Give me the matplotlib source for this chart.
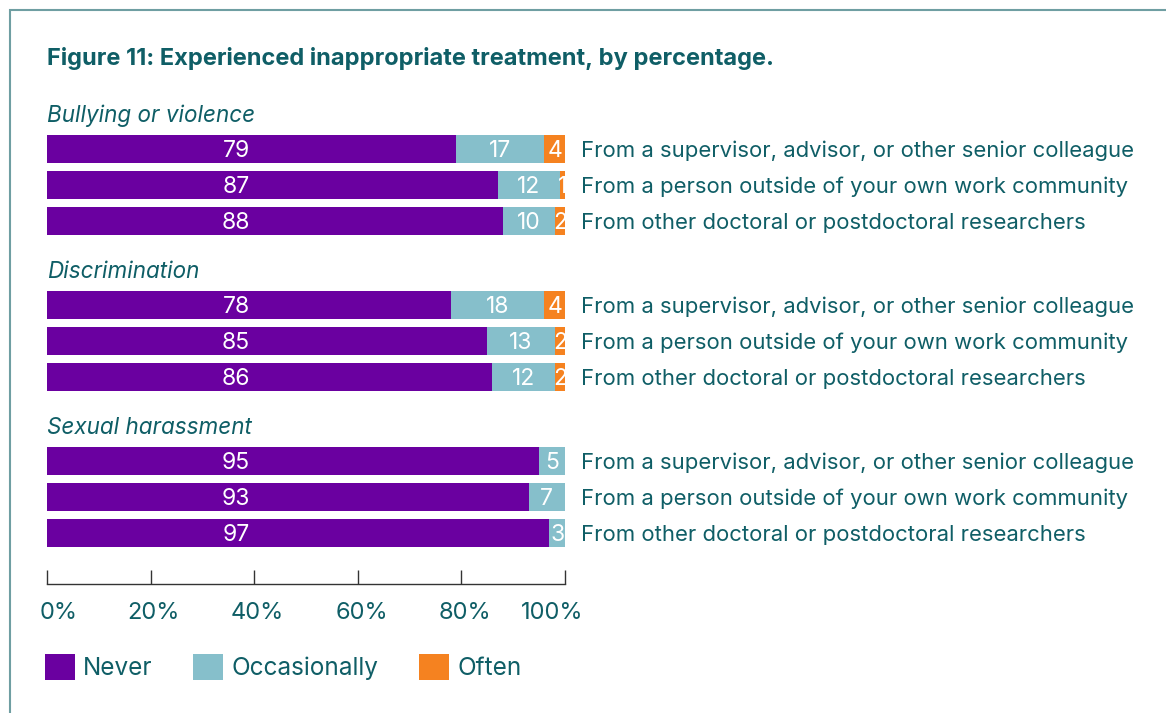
import numpy as np
import matplotlib
matplotlib.use("Agg")
import matplotlib.pyplot as plt
from matplotlib.patches import Rectangle
from matplotlib.transforms import ScaledTranslation

# survey shares, in percent
groups = ["Bullying or violence", "Discrimination", "Sexual harassment"]
sources = ["From a supervisor, advisor, or other senior colleague",
           "From a person outside of your own work community",
           "From other doctoral or postdoctoral researchers"]
never = [79, 87, 88, 78, 85, 86, 95, 93, 97]
occasionally = [17, 12, 10, 18, 13, 12, 5, 7, 3]
often = [4, 1, 2, 4, 2, 2, 0, 0, 0]
ticks = [0, 20, 40, 60, 80, 100]

PURPLE = "#6a00a0"
BLUE = "#86bfcb"
ORANGE = "#f58220"
TEAL = "#0f5e66"
FONT = "Inter"

plt.rcParams["font.family"] = [FONT, "DejaVu Sans"]

W, H = 1166, 713
fig = plt.figure(figsize=(W / 100, H / 100), dpi=100)

# open frame on the left and top
fig.add_artist(Rectangle((9.5 / W, -0.5), 2.0, 1.5 - 9.5 / H,
                         transform=fig.transFigure, fill=False,
                         edgecolor="#6f9ea2", linewidth=1.5))

fig.text(47 / W, 1 - 58 / H,
         "Figure 11: Experienced inappropriate treatment, by percentage.",
         fontsize=17, fontweight="bold", color=TEAL, va="center")

ax = fig.add_axes([47 / W, 1 - 584 / H, 518 / W, 449 / H])

# row positions: three per group, extra gap for group heading
gap = 2.33
pos = []
for g in range(3):
    for r in range(3):
        pos.append(g * (2 + gap) + r)
pos = np.array(pos, dtype=float)

h = 28 / 36
left2 = np.array(never)
left3 = left2 + np.array(occasionally)
b1 = ax.barh(pos, never, height=h, color=PURPLE, label="Never")
b2 = ax.barh(pos, occasionally, left=left2, height=h, color=BLUE,
             label="Occasionally")
b3 = ax.barh(pos, often, left=left3, height=h, color=ORANGE, label="Often")

dy = 0.06  # text sits a touch low of the box centre
lab = dict(color="white", fontsize=16.5, va="center", ha="center")
for i, y in enumerate(pos):
    ax.text(36.5, y + dy, str(never[i]), **lab)
    ax.text(never[i] + occasionally[i] / 2, y + dy, str(occasionally[i]), **lab)
    if often[i] > 0:
        ax.text(left3[i] + often[i] / 2, y + dy, str(often[i]), **lab)
    ax.text(103.1, y + dy, sources[i % 3], color=TEAL, fontsize=15.9,
            va="center", ha="left", clip_on=False)

for g in range(3):
    ax.text(0, pos[g * 3] - 0.92, groups[g], color=TEAL, fontsize=16.2,
            fontstyle="italic", va="center", ha="left", clip_on=False)

ax.set_xlim(0, 100)
ax.set_ylim(12.08, -0.39)
for s in ["top", "right", "left"]:
    ax.spines[s].set_visible(False)
ax.spines["bottom"].set_color("#333333")
ax.spines["bottom"].set_linewidth(1.0)
ax.set_yticks([])
ax.set_xticks(ticks)
ax.set_xticklabels([f"{t}%" for t in ticks])
ax.tick_params(axis="x", direction="in", length=10, width=1.0,
               color="#333333", pad=13, labelsize=17, labelcolor=TEAL)

# nudge the outer labels inward
shifts = [12, 3, 3, 4, 4, -13]
for lbl, dx in zip(ax.get_xticklabels(), shifts):
    lbl.set_transform(lbl.get_transform() +
                      ScaledTranslation(dx / 100, 0, fig.dpi_scale_trans))

fig.legend(handles=[b1, b2, b3], loc="center left",
           bbox_to_anchor=(45 / W, 1 - 667 / H), ncol=3, frameon=False,
           fontsize=17.5, labelcolor=TEAL, handlelength=1.23,
           handleheight=1.3, handletextpad=0.33, columnspacing=1.69,
           borderaxespad=0, borderpad=0)

fig.savefig("out.png", dpi=100)
